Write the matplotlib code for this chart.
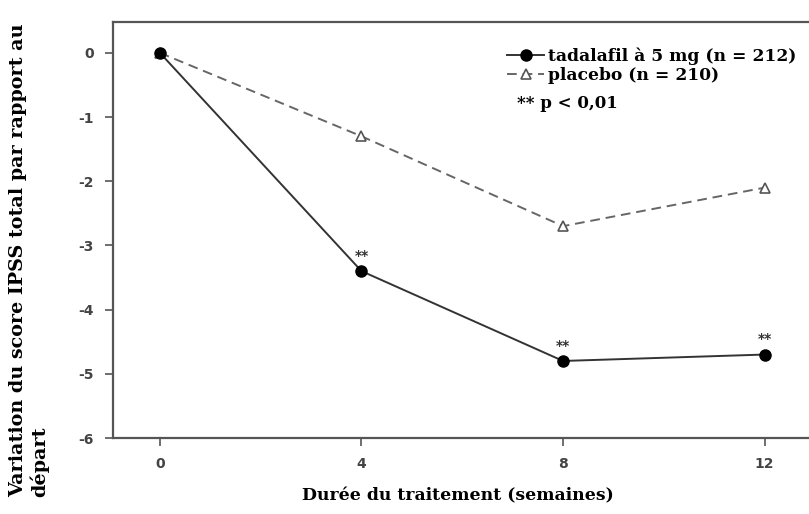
import matplotlib
matplotlib.use("Agg")
import matplotlib.pyplot as plt

weeks = [0, 4, 8, 12]
tadalafil = [0.0, -3.4, -4.8, -4.7]
placebo = [0.0, -1.3, -2.7, -2.1]
signif_weeks = [4, 8, 12]
x_ticks = [0, 4, 8, 12]
y_ticks = [0, -1, -2, -3, -4, -5, -6]

SERIF = "DejaVu Serif"

fig = plt.figure(figsize=(8.09, 5.14), dpi=100)
ax = fig.add_axes([113 / 809, 1 - 438 / 514, 1 - 113 / 809, (438 - 22) / 514])

ax.plot(weeks, placebo, color="#666666", lw=1.4, ls=(0, (5, 3)),
        marker="^", ms=7, mfc="white", mec="#555555", mew=1.2,
        label="placebo (n = 210)", zorder=3)
ax.plot(weeks, tadalafil, color="#333333", lw=1.4,
        marker="o", ms=8, mfc="black", mec="black",
        label="tadalafil à 5 mg (n = 212)", zorder=4)

for w in signif_weeks:
    v = tadalafil[weeks.index(w)]
    ax.annotate("**", (w, v), xytext=(0, 6), textcoords="offset points",
                ha="center", va="bottom", fontsize=10, color="#333333",
                weight="bold")

ax.set_xlim(-0.93, 12.88)
ax.set_ylim(-6, 0.48)
ax.set_xticks(x_ticks)
ax.set_yticks(y_ticks)
ax.set_xticklabels([str(t) for t in x_ticks])
ax.set_yticklabels([str(t) for t in y_ticks])

for side in ["left", "bottom", "top"]:
    ax.spines[side].set_color("#555555")
    ax.spines[side].set_linewidth(1.6)
ax.spines["right"].set_visible(False)
ax.tick_params(direction="out", length=6, width=1.2, color="#555555",
               labelsize=10, labelcolor="#444444", pad=8)
for lab in ax.get_xticklabels() + ax.get_yticklabels():
    lab.set_fontweight("bold")

handles, labels = ax.get_legend_handles_labels()
leg = ax.legend(handles[::-1], labels[::-1], loc="upper left",
                bbox_to_anchor=(0.556, 0.955), frameon=False,
                prop={"family": SERIF, "weight": "bold", "size": 12.3},
                handlelength=2.2, handletextpad=0.2, labelspacing=0.1,
                borderaxespad=0)
fig.text(517 / 809, 1 - 103 / 514, "** p < 0,01", family=SERIF,
         weight="bold", fontsize=12, va="center", ha="left")

fig.text(458 / 809, 1 - 496 / 514, "Durée du traitement (semaines)",
         family=SERIF, weight="bold", fontsize=12.4, ha="center", va="center")
fig.text(29 / 809, 1 - 260 / 514,
         "Variation du score IPSS total par rapport au\ndépart",
         family=SERIF, weight="bold", fontsize=13.8, rotation=90,
         ha="center", va="center", multialignment="left", linespacing=1.15)

fig.savefig("out.png", dpi=100)
